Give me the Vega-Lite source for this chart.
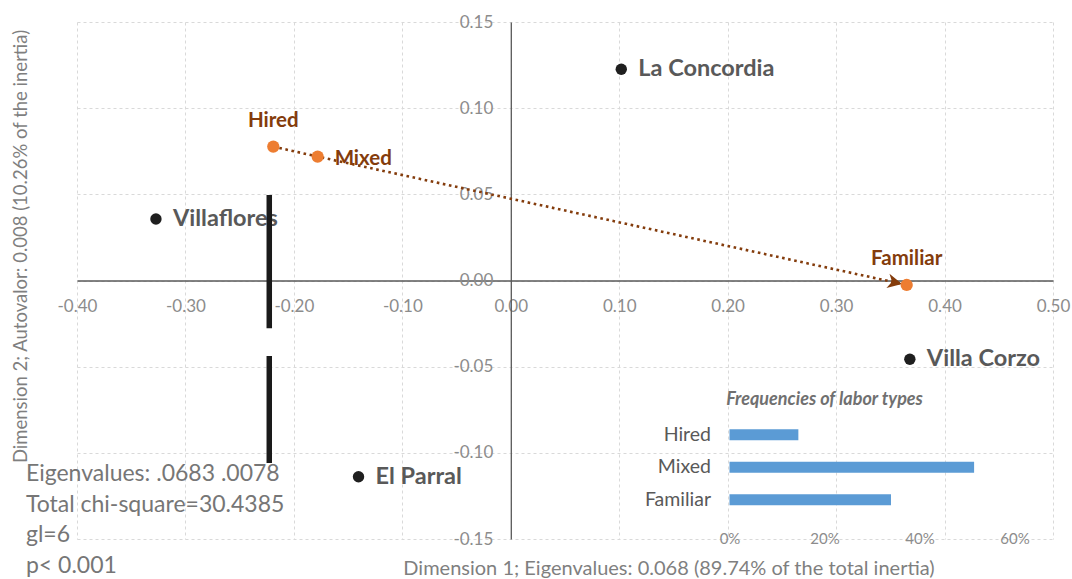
{
  "$schema": "https://vega.github.io/schema/vega-lite/v6.json",
  "width": 976,
  "height": 517,
  "autosize": {"type": "none"},
  "padding": {"left": 77, "top": 22, "right": 19, "bottom": 40},
  "background": "white",
  "config": {"font": "Lato", "view": {"stroke": null}},
  "datasets": {
    "sites": [
      {"site": "La Concordia", "x": 0.1019, "y": 0.1226},
      {"site": "Villaflores", "x": -0.3272, "y": 0.0357},
      {"site": "Villa Corzo", "x": 0.368, "y": -0.0457},
      {"site": "El Parral", "x": -0.1404, "y": -0.1139}
    ],
    "types": [
      {"label": "Hired", "x": -0.219, "y": 0.0777},
      {"label": "Mixed", "x": -0.1781, "y": 0.0719},
      {"label": "Familiar", "x": 0.3651, "y": -0.0026}
    ],
    "freq": [
      {"type": "Hired", "pct": 0.145},
      {"type": "Mixed", "pct": 0.515},
      {"type": "Familiar", "pct": 0.34}
    ],
    "bars": [
      {"x": -0.2227, "y": 0.0496, "y2": -0.0277},
      {"x": -0.2227, "y": -0.0438, "y2": -0.1059}
    ]
  },
  "layer": [
    {
      "encoding": {
        "x": {
          "field": "x", "type": "quantitative",
          "scale": {"domain": [-0.4, 0.5], "nice": false, "zero": false},
          "axis": {
            "orient": "bottom", "offset": -258.5,
            "values": [-0.4, -0.3, -0.2, -0.1, 0, 0.1, 0.2, 0.3, 0.4, 0.5],
            "labelExpr": "replace(format(datum.value, '.2f'), '\u2212', '-')",
            "grid": true, "gridColor": "#d9d9d9", "gridDash": [3, 3], "gridWidth": 1,
            "ticks": false, "domain": true, "domainColor": "#595959", "domainWidth": 1.3,
            "labelColor": "#8c8c8c", "labelFontSize": 17, "labelBaseline": "middle", "labelPadding": 26,
            "labelFlush": false, "labelOverlap": false, "labelBound": false,
            "title": "Dimension 1; Eigenvalues: 0.068 (89.74% of the total inertia)",
            "titleX": 591.5, "titleY": 287.5, "titleAnchor": "middle", "titleAlign": "center", "titleBaseline": "middle",
            "titleFontSize": 20, "titleFontWeight": "normal", "titleColor": "#7f7f7f"
          }
        },
        "y": {
          "field": "y", "type": "quantitative",
          "scale": {"domain": [-0.15, 0.15], "nice": false, "zero": false},
          "axis": {
            "orient": "left", "offset": -433.8,
            "values": [-0.15, -0.1, -0.05, 0, 0.05, 0.1, 0.15],
            "labelExpr": "replace(format(datum.value, '.2f'), '\u2212', '-')",
            "grid": true, "gridColor": "#d9d9d9", "gridDash": [3, 3], "gridWidth": 1,
            "ticks": false, "domain": true, "domainColor": "#595959", "domainWidth": 1.3,
            "labelColor": "#8c8c8c", "labelFontSize": 17, "labelPadding": 18,
            "labelFlush": false, "labelOverlap": false, "labelBound": false,
            "title": "Dimension 2; Autovalor: 0.008 (10.26% of the inertia)",
            "titleX": -490.8, "titleY": 224, "titleAngle": -90, "titleAnchor": "middle", "titleAlign": "center", "titleBaseline": "middle",
            "titleFontSize": 18.5, "titleFontWeight": "normal", "titleColor": "#7f7f7f"
          }
        }
      },
      "layer": [
        {
          "data": {"name": "types"},
          "mark": {"type": "line", "color": "#843C0C", "strokeWidth": 2.6, "strokeDash": [2.6, 3.6]}
        },
        {
          "data": {"name": "types"},
          "transform": [{"filter": "datum.label === 'Familiar'"}],
          "mark": {"type": "point", "shape": "M-0.8,0L-3.2,-1.2L-2.5,0L-3.2,1.2Z", "size": 144, "angle": 12.3, "filled": true, "color": "#843C0C", "opacity": 1}
        },
        {
          "data": {"name": "types"},
          "mark": {"type": "point", "filled": true, "size": 150, "color": "#ED7D31", "opacity": 1}
        },
        {
          "data": {"name": "types"},
          "transform": [{"filter": "datum.label !== 'Mixed'"}],
          "mark": {"type": "text", "dy": -26, "align": "center", "baseline": "middle", "fontSize": 20.5, "fontWeight": "bold", "color": "#843C0C"},
          "encoding": {"text": {"field": "label"}}
        },
        {
          "data": {"name": "types"},
          "transform": [{"filter": "datum.label === 'Mixed'"}],
          "mark": {"type": "text", "dx": 17, "dy": 2, "align": "left", "baseline": "middle", "fontSize": 20.5, "fontWeight": "bold", "color": "#843C0C"},
          "encoding": {"text": {"field": "label"}}
        },
        {
          "data": {"name": "sites"},
          "mark": {"type": "point", "filled": true, "size": 130, "color": "#1f1f1f", "opacity": 1}
        },
        {
          "data": {"name": "sites"},
          "mark": {"type": "text", "dx": 17, "align": "left", "baseline": "middle", "fontSize": 23.5, "fontWeight": "bold", "color": "#595959"},
          "encoding": {"text": {"field": "site"}}
        },
        {
          "data": {"name": "bars"},
          "mark": {"type": "rule", "color": "#1a1a1a", "strokeWidth": 5.5},
          "encoding": {"y2": {"field": "y2"}}
        },
        {
          "data": {"name": "sites"},
          "transform": [{"filter": "datum.site === 'El Parral'"}],
          "mark": {"type": "text", "align": "left", "baseline": "alphabetic", "fontSize": 23, "lineHeight": 30.5, "color": "#767676"},
          "encoding": {
            "x": {"datum": -0.4471, "type": "quantitative"},
            "y": {"datum": -0.1164, "type": "quantitative"},
            "text": {"value": ["Eigenvalues: .0683 .0078", "Total chi-square=30.4385", "gl=6", "p< 0.001"]}
          }
        },
        {
          "data": {"name": "sites"},
          "transform": [{"filter": "datum.site === 'El Parral'"}],
          "mark": {"type": "text", "align": "center", "baseline": "middle", "fontSize": 18, "fontWeight": "bold", "fontStyle": "italic", "color": "#707070"},
          "encoding": {
            "x": {"datum": 0.2894, "type": "quantitative"},
            "y": {"datum": -0.0694, "type": "quantitative"},
            "text": {"value": "Frequencies of labor types"}
          }
        }
      ]
    },
    {
      "data": {"name": "freq"},
      "mark": {"type": "bar", "color": "#5B9BD5"},
      "encoding": {
        "x": {
          "field": "pct", "type": "quantitative",
          "scale": {"domain": [-1.3737, 0.6811], "nice": false, "zero": false},
          "axis": {
            "orient": "bottom", "offset": -1, "values": [0, 0.2, 0.4, 0.6], "format": ".0%",
            "grid": false, "ticks": false, "domain": false,
            "labelColor": "#8c8c8c", "labelFontSize": 15, "labelBaseline": "middle", "labelPadding": 0,
            "labelFlush": false, "labelOverlap": false, "title": null
          }
        },
        "y": {
          "field": "type", "type": "nominal",
          "scale": {
            "domain": ["_a", "_b", "_c", "_d", "_e", "_f", "_g", "_h", "_i", "_j", "_k", "_l", "Hired", "Mixed", "Familiar"],
            "paddingInner": 0.66, "paddingOuter": 0.784, "align": 0.3376
          },
          "axis": {
            "orient": "left", "offset": -652.5, "ticks": false, "domain": false, "grid": false,
            "labelExpr": "substring(datum.label, 0, 1) === '_' ? '' : datum.label",
            "labelColor": "#595959", "labelFontSize": 19.5, "labelPadding": 19, "title": null
          }
        }
      }
    }
  ],
  "resolve": {"scale": {"x": "independent", "y": "independent"}}
}
